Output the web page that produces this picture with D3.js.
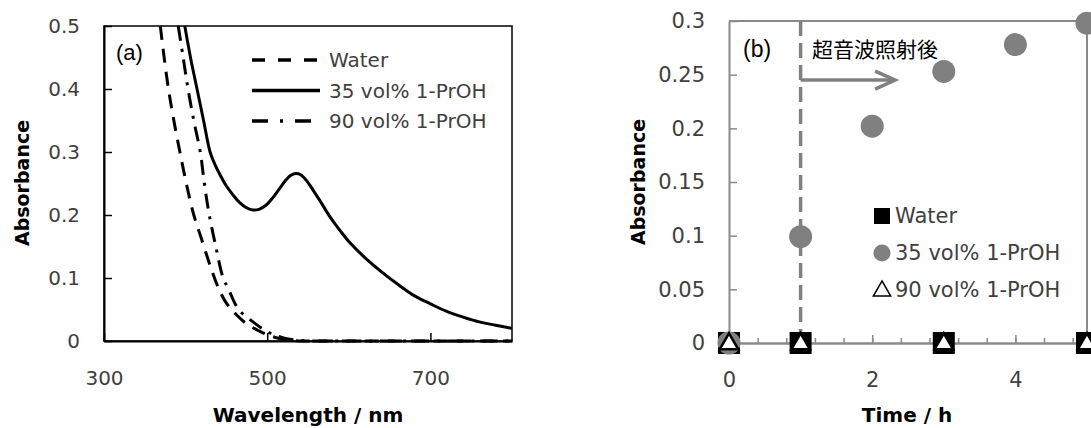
<!DOCTYPE html>
<html>
<head>
<meta charset="utf-8">
<script src="https://cdn.jsdelivr.net/npm/d3@7"></script>
<style>
  body { margin: 0; background: #fff; }
  svg { display: block; }
</style>
</head>
<body>
<div id="chart"></div>
<script>
// ---- panel (a): absorption spectra
var wlWater  = [369, 379, 393, 409, 420, 430, 440, 450, 462, 475, 490, 500, 515, 530, 545, 600, 700, 800];
var absWater = [0.5, 0.4, 0.3, 0.205, 0.16, 0.12, 0.085, 0.06, 0.042, 0.027, 0.016, 0.01, 0.004, 0.001, 0, 0, 0, 0];

var wl35  = [399, 406, 414, 422, 430, 436, 443, 450, 458, 466, 474, 482, 490, 498, 506, 514, 522, 529, 535,
             541, 548, 556, 565, 577, 590, 602, 620, 639, 660, 680, 700, 720, 740, 761, 780, 800];
var abs35 = [0.5, 0.45, 0.4, 0.35, 0.3, 0.28, 0.262, 0.246, 0.232, 0.22, 0.212, 0.208, 0.209, 0.215, 0.226, 0.24, 0.254, 0.263, 0.266,
             0.264, 0.255, 0.24, 0.222, 0.197, 0.174, 0.155, 0.132, 0.111, 0.09, 0.072, 0.059, 0.047, 0.038, 0.03, 0.025, 0.02];

var wl90  = [391, 397, 403, 410, 418, 423, 429, 437, 446, 452, 465, 483, 500, 520, 540, 560, 620, 700, 800];
var abs90 = [0.5, 0.45, 0.4, 0.35, 0.3, 0.25, 0.2, 0.15, 0.1, 0.084, 0.05, 0.03, 0.015, 0.005, 0.001, 0, 0, 0, 0];

var xTicksA = [300, 500, 700];
var yTicksA = [0, 0.1, 0.2, 0.3, 0.4, 0.5];

// ---- panel (b): absorbance vs time
var timeWater = [0, 1, 3, 5];
var absWaterB = [0, 0, 0, 0];
var time35 = [0, 1, 2, 3, 4, 5];
var abs35B = [0, 0.099, 0.202, 0.253, 0.278, 0.298];
var time90 = [0, 1, 3, 5];
var abs90B = [0, 0, 0, 0];

var xTicksB = [0, 2, 4];
var yTicksB = [0, 0.05, 0.1, 0.15, 0.2, 0.25, 0.3];

var seriesNames = ["Water", "35 vol% 1-PrOH", "90 vol% 1-PrOH"];

var W = 1091, H = 428;
var labelFont = "'DejaVu Sans', sans-serif";
var textCol = "#404040";
var grey = "#808080";

var svg = d3.select("#chart").append("svg")
  .attr("width", W)
  .attr("height", H);

function zip(xs, ys) { return xs.map(function(d, i) { return {x: d, y: ys[i]}; }); }

//------------------------------------------------------------------------
// panel (a)
var xa = d3.scaleLinear().domain([300, 800]).range([104, 512]);
var ya = d3.scaleLinear().domain([0, 0.5]).range([341, 26]);

var ga = svg.append("g");

// frame
ga.append("rect")
  .attr("x", xa(300)).attr("y", ya(0.5))
  .attr("width", xa(800) - xa(300)).attr("height", ya(0) - ya(0.5))
  .attr("fill", "none").attr("stroke", "#000").attr("stroke-width", 1.5);

var axA_y = ga.append("g")
  .attr("transform", "translate(" + xa(300) + ",0)")
  .call(d3.axisLeft(ya).tickValues(yTicksA).tickFormat(d3.format("")).tickSizeInner(-8).tickSizeOuter(0).tickPadding(24));
var axA_x = ga.append("g")
  .attr("transform", "translate(0," + ya(0) + ")")
  .call(d3.axisBottom(xa).tickValues(xTicksA).tickFormat(d3.format("")).tickSizeInner(-8).tickSizeOuter(0).tickPadding(30));

[axA_y, axA_x].forEach(function(ax) {
  ax.select(".domain").attr("stroke", "#000").attr("stroke-width", 2);
  ax.selectAll(".tick line").attr("stroke", "#000").attr("stroke-width", 1.5);
  ax.selectAll("text").attr("font-family", labelFont).attr("font-size", 20).attr("fill", textCol);
});

svg.append("clipPath").attr("id", "clipA")
  .append("rect")
  .attr("x", xa(300)).attr("y", ya(0.5) - 1)
  .attr("width", xa(800) - xa(300) + 2).attr("height", ya(0) - ya(0.5) + 3);

var lineA = d3.line()
  .x(function(d) { return xa(d.x); })
  .y(function(d) { return ya(d.y); })
  .curve(d3.curveCatmullRom.alpha(0.5));

var styleA = [
  {data: zip(wlWater, absWater), dash: "14,9"},
  {data: zip(wl35, abs35), dash: null},
  {data: zip(wl90, abs90), dash: "15,8,3,8"}
];

styleA.forEach(function(s) {
  ga.append("path")
    .datum(s.data)
    .attr("d", lineA)
    .attr("clip-path", "url(#clipA)")
    .attr("fill", "none")
    .attr("stroke", "#000")
    .attr("stroke-width", 3)
    .attr("stroke-dasharray", s.dash);
});

// legend (a)
styleA.forEach(function(s, i) {
  var yy = 60 + i * 30.5;
  ga.append("line")
    .attr("x1", 252).attr("x2", 320).attr("y1", yy).attr("y2", yy)
    .attr("stroke", "#000").attr("stroke-width", 3.5)
    .attr("stroke-dasharray", i == 0 ? "13,13" : (i == 2 ? "16,12,3,12" : null));
  ga.append("text")
    .attr("x", 329).attr("y", yy).attr("dy", "0.35em")
    .attr("font-family", labelFont).attr("font-size", 20).attr("fill", textCol)
    .text(seriesNames[i]);
});

ga.append("text")
  .attr("x", 116).attr("y", 60)
  .attr("font-family", "'Liberation Sans', Arial, sans-serif").attr("font-size", 22).attr("fill", "#000")
  .text("(a)");

ga.append("text")
  .attr("transform", "translate(29,183)rotate(-90)")
  .attr("text-anchor", "middle")
  .attr("font-family", labelFont).attr("font-weight", "bold").attr("font-size", 19).attr("fill", "#000")
  .text("Absorbance");

ga.append("text")
  .attr("x", 308).attr("y", 422)
  .attr("text-anchor", "middle")
  .attr("font-family", labelFont).attr("font-weight", "bold").attr("font-size", 20).attr("fill", "#000")
  .text("Wavelength / nm");

//------------------------------------------------------------------------
// panel (b)
var xb = d3.scaleLinear().domain([0, 5]).range([729, 1087]);
var yb = d3.scaleLinear().domain([0, 0.3]).range([343, 21]);

var gb = svg.append("g");
var axisGrey = "#8a8a8a";

// top and right border
gb.append("path")
  .attr("d", "M" + xb(0) + "," + yb(0.3) + "H" + xb(5) + "V" + yb(0))
  .attr("fill", "none").attr("stroke", axisGrey).attr("stroke-width", 2);

var axB_minor = gb.append("g")
  .attr("transform", "translate(0," + yb(0) + ")")
  .call(d3.axisBottom(xb).tickValues(d3.range(0.4, 5, 0.4)).tickFormat("").tickSizeInner(-5).tickSizeOuter(0));
var axB_x = gb.append("g")
  .attr("transform", "translate(0," + yb(0) + ")")
  .call(d3.axisBottom(xb).tickValues(xTicksB).tickFormat(d3.format("")).tickSizeInner(-8).tickSizeOuter(0).tickPadding(29));
var axB_y = gb.append("g")
  .attr("transform", "translate(" + xb(0) + ",0)")
  .call(d3.axisLeft(yb).tickValues(yTicksB).tickFormat(d3.format("")).tickSizeInner(-8).tickSizeOuter(0).tickPadding(24));

[axB_minor, axB_x, axB_y].forEach(function(ax) {
  ax.select(".domain").attr("stroke", axisGrey).attr("stroke-width", 2);
  ax.selectAll(".tick line").attr("stroke", axisGrey).attr("stroke-width", 1.5);
  ax.selectAll("text").attr("font-family", labelFont).attr("font-size", 21).attr("fill", textCol);
});

// sonication marker: dashed line at t = 1 and arrow
gb.append("line")
  .attr("x1", xb(1)).attr("x2", xb(1))
  .attr("y1", yb(0.3)).attr("y2", yb(0))
  .attr("stroke", grey).attr("stroke-width", 3.5).attr("stroke-dasharray", "15,7");

var arrY = yb(0.245), arrX0 = xb(1), arrX1 = xb(2.32);
gb.append("line")
  .attr("x1", arrX0).attr("x2", arrX1 - 2).attr("y1", arrY).attr("y2", arrY)
  .attr("stroke", grey).attr("stroke-width", 3.5);
gb.append("polyline")
  .attr("points", [[arrX1 - 20, arrY - 9], [arrX1, arrY], [arrX1 - 20, arrY + 9]].join(" "))
  .attr("fill", "none").attr("stroke", grey).attr("stroke-width", 3.5);

gb.append("text")
  .attr("x", xb(1.16)).attr("y", yb(0.273)).attr("dy", "0.35em")
  .attr("font-family", "'Noto Sans CJK JP', sans-serif").attr("font-size", 21).attr("fill", "#000")
  .text("超音波照射後");

gb.append("text")
  .attr("x", 743).attr("y", 57)
  .attr("font-family", "'Liberation Sans', Arial, sans-serif").attr("font-size", 23).attr("fill", "#000")
  .text("(b)");

// markers
var sq = 22;
gb.selectAll(".sqWater")
  .data(zip(timeWater, absWaterB))
  .enter().append("rect")
  .attr("class", "sqWater")
  .attr("x", function(d) { return xb(d.x) - sq / 2; })
  .attr("y", function(d) { return yb(d.y) - sq / 2; })
  .attr("width", sq).attr("height", sq)
  .attr("fill", "#000");

gb.selectAll(".dot35")
  .data(zip(time35, abs35B))
  .enter().append("circle")
  .attr("class", "dot35")
  .attr("cx", function(d) { return xb(d.x); })
  .attr("cy", function(d) { return yb(d.y); })
  .attr("r", 11.5)
  .attr("fill", grey);

var tri = d3.symbol().type(d3.symbolTriangle).size(150);
gb.selectAll(".tri90")
  .data(zip(time90, abs90B))
  .enter().append("path")
  .attr("class", "tri90")
  .attr("d", tri)
  .attr("transform", function(d) { return "translate(" + xb(d.x) + "," + (yb(d.y) + 1) + ")"; })
  .attr("fill", "#fff").attr("stroke", "#000").attr("stroke-width", 2.5);

// legend (b)
var legX = 882, legY = [216, 253, 290];
gb.append("rect").attr("x", legX - 8).attr("y", legY[0] - 8).attr("width", 16).attr("height", 16).attr("fill", "#000");
gb.append("circle").attr("cx", legX).attr("cy", legY[1]).attr("r", 8.5).attr("fill", grey);
gb.append("path")
  .attr("d", d3.symbol().type(d3.symbolTriangle).size(130))
  .attr("transform", "translate(" + legX + "," + (legY[2] + 1) + ")")
  .attr("fill", "#fff").attr("stroke", "#000").attr("stroke-width", 1.5);

seriesNames.forEach(function(name, i) {
  gb.append("text")
    .attr("x", 895).attr("y", legY[i]).attr("dy", "0.35em")
    .attr("font-family", labelFont).attr("font-size", 21).attr("fill", textCol)
    .text(name);
});

gb.append("text")
  .attr("transform", "translate(645,182)rotate(-90)")
  .attr("text-anchor", "middle")
  .attr("font-family", labelFont).attr("font-weight", "bold").attr("font-size", 19).attr("fill", "#000")
  .text("Absorbance");

gb.append("text")
  .attr("x", 907).attr("y", 422)
  .attr("text-anchor", "middle")
  .attr("font-family", labelFont).attr("font-weight", "bold").attr("font-size", 20).attr("fill", "#000")
  .text("Time / h");
</script>
</body>
</html>
